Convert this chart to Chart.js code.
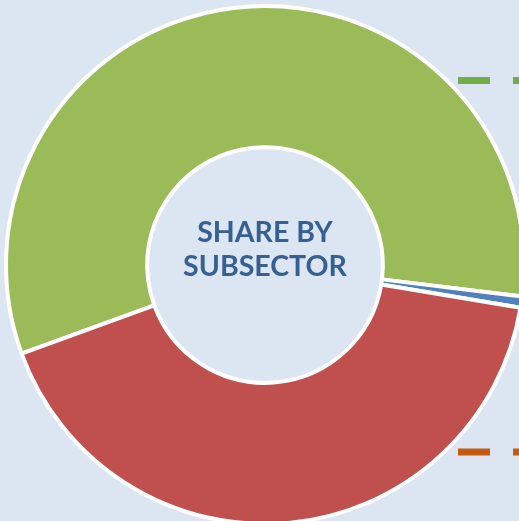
<!DOCTYPE html>
<html>
<head>
<meta charset="utf-8">
<script src="https://cdn.jsdelivr.net/npm/chart.js@4/dist/chart.umd.min.js"></script>
<style>
  html, body { margin: 0; padding: 0; background: #DCE6F2; overflow: hidden; width: 519px; height: 521px; }
  #wrap { position: absolute; left: 0; top: 0; width: 620px; height: 620px; }
</style>
</head>
<body>
<div id="wrap"><canvas id="c" width="620" height="620"></canvas></div>
<script>
const categories = ["Subsector A", "Subsector B", "Subsector C"];
const shareValues = [57.5, 0.7, 41.8];
const sliceColors = ["#9BBB59", "#4F81BD", "#C0504D"];
const centerLines = ["SHARE BY", "SUBSECTOR"];
const legendColors = ["#70AD47", "#C55A11"];

const centerText = {
  id: 'centerText',
  afterDraw(chart) {
    const arc = chart.getDatasetMeta(0).data[0];
    const ctx = chart.ctx;
    ctx.save();
    ctx.fillStyle = '#376092';
    ctx.font = 'bold 28.5px Lato';
    ctx.textAlign = 'center';
    ctx.textBaseline = 'middle';
    ctx.fillText(centerLines[0], arc.x, arc.y - 32);
    ctx.fillText(centerLines[1], arc.x, arc.y + 1.5);
    ctx.restore();
  }
};

const legendDashes = {
  id: 'legendDashes',
  afterDraw(chart) {
    const ctx = chart.ctx;
    const ys = [80.5, 452];
    ctx.save();
    ctx.lineWidth = 7;
    ctx.setLineDash([32, 23]);
    legendColors.forEach((col, i) => {
      ctx.strokeStyle = col;
      ctx.beginPath();
      ctx.moveTo(458, ys[i]);
      ctx.lineTo(600, ys[i]);
      ctx.stroke();
    });
    ctx.restore();
  }
};

new Chart(document.getElementById('c'), {
  type: 'doughnut',
  data: {
    labels: categories,
    datasets: [{
      data: shareValues,
      backgroundColor: sliceColors,
      borderColor: '#FFFFFF',
      borderWidth: 4,
      hoverOffset: 0
    }]
  },
  options: {
    responsive: false,
    animation: false,
    rotation: 250,
    cutout: '45.5%',
    layout: { padding: { left: 4, top: 4, right: 94, bottom: 94 } },
    plugins: { legend: { display: false }, tooltip: { enabled: false } }
  },
  plugins: [centerText, legendDashes]
});
</script>
</body>
</html>
